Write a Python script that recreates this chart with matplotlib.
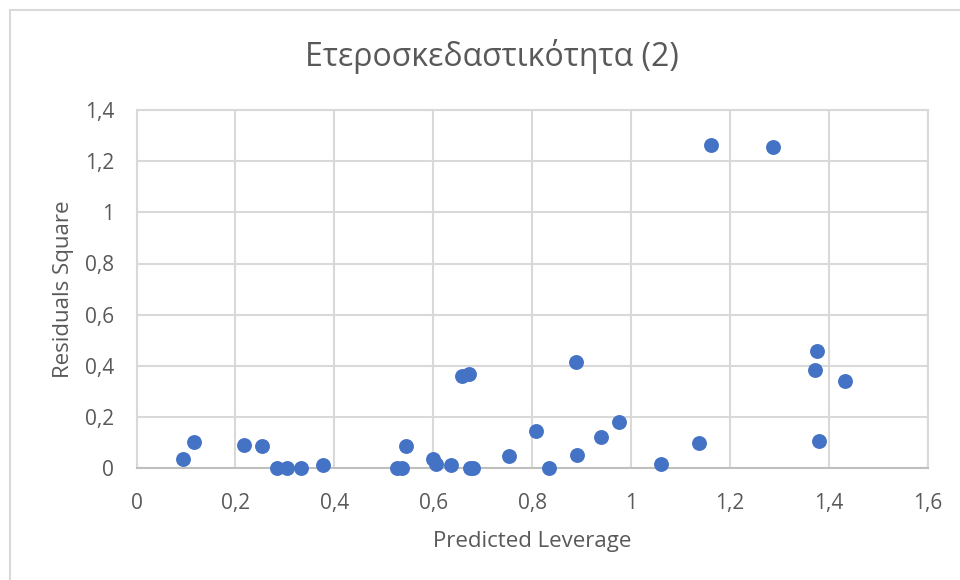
import matplotlib

matplotlib.use("Agg")
import matplotlib.pyplot as plt  # noqa: E402
from matplotlib.lines import Line2D  # noqa: E402
from matplotlib.ticker import FuncFormatter  # noqa: E402

plt.rcParams["font.family"] = ["Open Sans", "DejaVu Sans"]

# Data
predicted_leverage = [
    0.095, 0.116, 0.217, 0.253, 0.284, 0.305, 0.333, 0.377, 0.526, 0.536,
    0.545, 0.600, 0.605, 0.636, 0.674, 0.680, 0.658, 0.673, 0.753, 0.807,
    0.834, 0.888, 0.890, 0.939, 0.976, 1.060, 1.137, 1.161, 1.288, 1.376,
    1.373, 1.381, 1.433,
]
residuals_square = [
    0.036, 0.102, 0.091, 0.086, 0.000, 0.002, 0.002, 0.012, 0.000, 0.000,
    0.086, 0.036, 0.016, 0.012, 0.000, 0.002, 0.362, 0.367, 0.048, 0.147,
    0.000, 0.416, 0.052, 0.122, 0.182, 0.016, 0.097, 1.263, 1.254, 0.458,
    0.383, 0.108, 0.342,
]
x_ticks = [0, 0.2, 0.4, 0.6, 0.8, 1.0, 1.2, 1.4, 1.6]
y_ticks = [0, 0.2, 0.4, 0.6, 0.8, 1.0, 1.2, 1.4]

TEXT_COLOR = "#595959"
GRID_COLOR = "#D9D9D9"
POINT_COLOR = "#4472C4"


def comma_fmt(v, _pos):
    s = f"{v:.1f}".rstrip("0").rstrip(".")
    return s.replace(".", ",")


fig = plt.figure(figsize=(9.6, 5.8), dpi=100)
ax = fig.add_axes([136.5 / 960, 111.7 / 580, 791.2 / 960, 358.4 / 580])

ax.scatter(predicted_leverage, residuals_square, s=115, color=POINT_COLOR,
           linewidths=0, zorder=3, clip_on=False)

ax.set_xlim(0, 1.6)
ax.set_ylim(0, 1.4)
ax.set_xticks(x_ticks)
ax.set_yticks(y_ticks)
ax.xaxis.set_major_formatter(FuncFormatter(comma_fmt))
ax.yaxis.set_major_formatter(FuncFormatter(comma_fmt))
ax.tick_params(length=0, labelsize=15, labelcolor=TEXT_COLOR)
ax.tick_params(axis="x", pad=18)
ax.tick_params(axis="y", pad=16)

ax.grid(True, color=GRID_COLOR, linewidth=1.5)
ax.set_axisbelow(True)
for side in ["top", "right", "left"]:
    ax.spines[side].set_color(GRID_COLOR)
    ax.spines[side].set_linewidth(1.5)
ax.spines["bottom"].set_color("#BFBFBF")
ax.spines["bottom"].set_linewidth(1.5)

ax.set_xlabel("Predicted Leverage", fontsize=16, color=TEXT_COLOR, labelpad=12)
ax.set_ylabel("Residuals Square", fontsize=16, color=TEXT_COLOR, labelpad=8)

fig.text(492 / 960, 1 - 57 / 580, "Ετεροσκεδαστικότητα (2)", fontsize=23,
         color=TEXT_COLOR, ha="center", va="center")

# chart area frame (only top and left edges are visible in the reference)
fig.add_artist(Line2D([10 / 960, 1], [1 - 10 / 580, 1 - 10 / 580],
                      transform=fig.transFigure, color=GRID_COLOR, linewidth=1.5))
fig.add_artist(Line2D([10 / 960, 10 / 960], [0, 1 - 10 / 580],
                      transform=fig.transFigure, color=GRID_COLOR, linewidth=1.5))

fig.savefig("out.png", dpi=100, facecolor="white")
plt.close(fig)
